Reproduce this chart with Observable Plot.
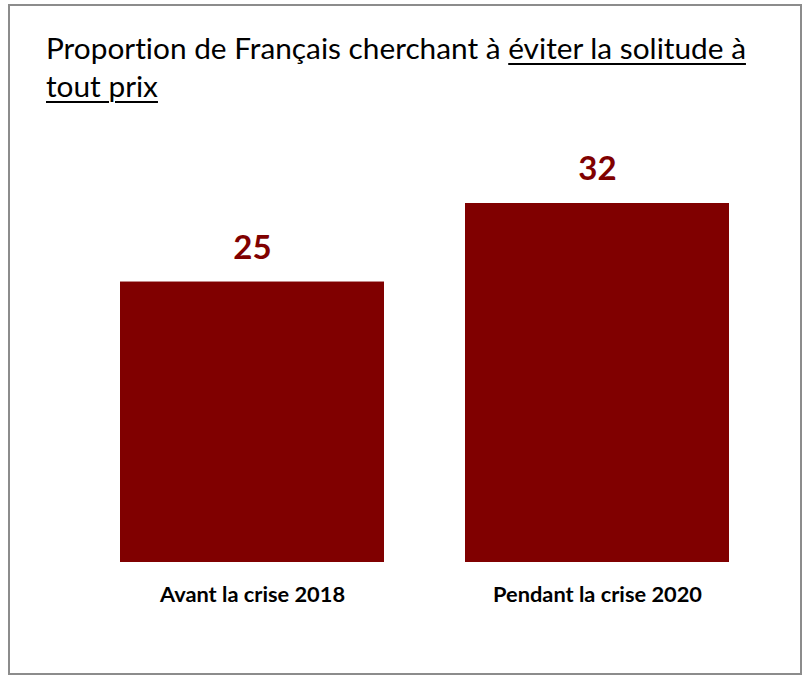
<!DOCTYPE html>
<html><head><meta charset="utf-8">
<script src="https://cdn.jsdelivr.net/npm/d3@7"></script>
<script src="https://cdn.jsdelivr.net/npm/@observablehq/plot@0.6"></script>
<style>
html,body{margin:0;padding:0;background:#fff}
body{width:807px;height:678px;position:relative;overflow:hidden;font-family:Lato,sans-serif;font-variant-ligatures:none}
#frame{position:absolute;left:8px;top:4px;width:794px;height:671px;border:2px solid #8c8c8c;box-sizing:border-box}
#title{position:absolute;left:46px;top:29px;font-size:29.8px;line-height:38px;color:#000;white-space:nowrap}
#title u{text-decoration-thickness:2px;text-underline-offset:4px}
#chart{position:absolute;left:0;top:0}
#chart svg{font-variant-ligatures:none}
</style></head>
<body>
<div id="frame"></div>
<div id="title">Proportion de Français cherchant à <u>éviter la solitude à<br>tout prix</u></div>
<div id="chart"></div>
<script>
const categories = ["Avant la crise 2018", "Pendant la crise 2020"];
const values = [25, 32];
const data = categories.map((c, i) => ({category: c, value: values[i]}));
const chart = Plot.plot({
  width: 807, height: 678,
  marginTop: 203, marginBottom: 116, marginLeft: 84.4, marginRight: 42.4,
  x: {domain: categories, paddingInner: 0.234, paddingOuter: 0.1, label: null},
  y: {domain: [0, 32], axis: null},
  style: {fontFamily: "Lato, sans-serif", background: "transparent"},
  marks: [
    Plot.barY(data, {x: "category", y: "value", fill: "#800000"}),
    Plot.text(data, {x: "category", y: "value", text: d => String(d.value), dy: -34, fill: "#800000", fontSize: 33, fontWeight: "bold"}),
    Plot.axisX({tickSize: 0, tickPadding: 24.5, fontSize: 21.8, fontWeight: "bold", fill: "#000"})
  ]
});
document.getElementById("chart").appendChild(chart);
</script>
</body></html>
